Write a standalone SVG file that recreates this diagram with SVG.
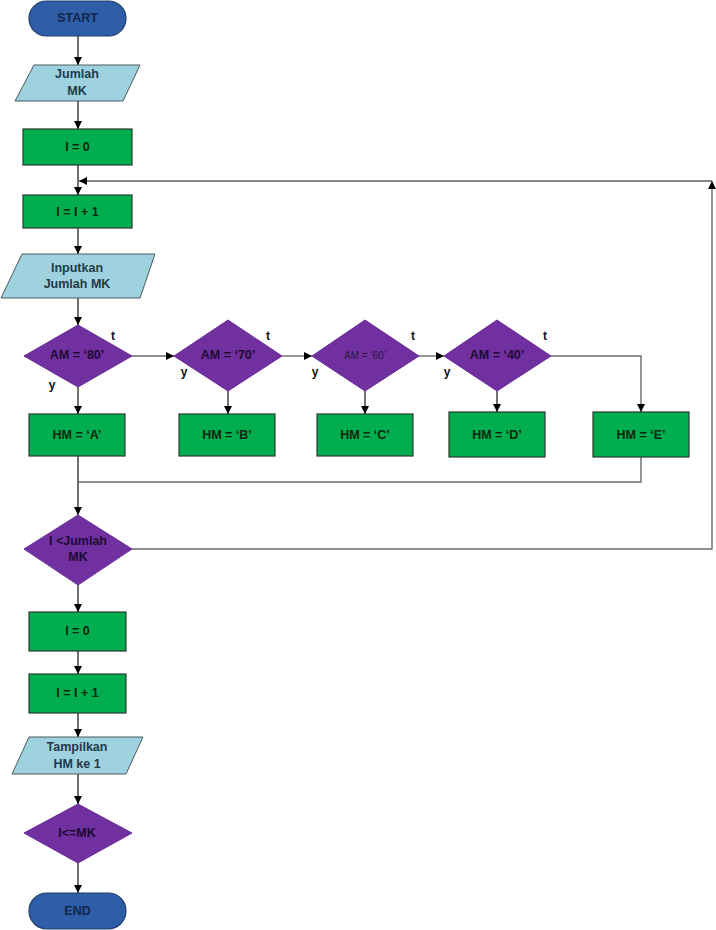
<svg xmlns="http://www.w3.org/2000/svg" width="716" height="930" viewBox="0 0 716 930">
<style>
text{font-family:"Liberation Sans",Arial,sans-serif;font-weight:bold;font-size:12.5px;text-anchor:middle;dominant-baseline:central}
.term{fill:#2e5ea8;stroke:#1e3c6e;stroke-width:1.2}
.term-t{fill:#14254a}
.io{fill:#9fd2df;stroke:#4a5a60;stroke-width:1}
.io-t{fill:#1f3a4a}
.proc{fill:#00ad4f;stroke:#2a3a2f;stroke-width:1.2}
.proc-t{fill:#10260f}
.dec{fill:#7030a0;stroke:#6a2a98;stroke-width:1}
.dec-t{fill:#1e0a30}
.lbl{fill:#111;font-size:12px}
.c{fill:none;stroke:#111;stroke-width:1.2}
.g{fill:none;stroke:#6a6a6a;stroke-width:1.4}
</style>
<defs>
<marker id="ah" markerUnits="userSpaceOnUse" markerWidth="9" markerHeight="8" refX="8" refY="4" orient="auto"><path d="M0,0 L8,4 L0,8 z" fill="#000"/></marker>
</defs>
<g id="connectors">
<line class="c" x1="78" y1="36" x2="78" y2="65" marker-end="url(#ah)"/>
<line class="c" x1="78" y1="101" x2="78" y2="129" marker-end="url(#ah)"/>
<line class="c" x1="78" y1="165" x2="78" y2="195" marker-end="url(#ah)"/>
<line class="c" x1="712" y1="181" x2="79" y2="181" marker-end="url(#ah)"/>
<line class="c" x1="78" y1="228" x2="78" y2="254" marker-end="url(#ah)"/>
<line class="c" x1="78" y1="298" x2="78" y2="325" marker-end="url(#ah)"/>
<line class="c" x1="78" y1="387" x2="78" y2="414" marker-end="url(#ah)"/>
<line class="g" x1="132" y1="356" x2="174" y2="356" marker-end="url(#ah)"/>
<line class="c" x1="228" y1="391" x2="228" y2="414" marker-end="url(#ah)"/>
<line class="g" x1="282" y1="356" x2="312" y2="356" marker-end="url(#ah)"/>
<line class="c" x1="365" y1="391" x2="365" y2="414" marker-end="url(#ah)"/>
<line class="g" x1="419" y1="356" x2="444" y2="356" marker-end="url(#ah)"/>
<line class="c" x1="497" y1="391" x2="497" y2="412" marker-end="url(#ah)"/>
<polyline class="g" points="551,356 641,356 641,412" marker-end="url(#ah)"/>
<line class="c" x1="78" y1="456" x2="78" y2="515" marker-end="url(#ah)"/>
<polyline class="g" points="641,457 641,482 78,482"/>
<polyline class="g" points="132,549 712,549 712,181" marker-end="url(#ah)"/>
<line class="c" x1="78" y1="585" x2="78" y2="612" marker-end="url(#ah)"/>
<line class="c" x1="78" y1="651" x2="78" y2="674" marker-end="url(#ah)"/>
<line class="c" x1="78" y1="713" x2="78" y2="737" marker-end="url(#ah)"/>
<line class="c" x1="78" y1="774" x2="78" y2="804" marker-end="url(#ah)"/>
<line class="c" x1="78" y1="863" x2="78" y2="893" marker-end="url(#ah)"/>
</g>
<g id="start"><rect class="term" x="29" y="1" width="97" height="35" rx="17.5"/><text class="term-t" x="77.5" y="18">START</text></g>
<g id="input-jumlah"><polygon class="io" points="34,65 140,65 123,101 15,101"/><text class="io-t" x="77" y="74">Jumlah</text><text class="io-t" x="77" y="91">MK</text></g>
<g id="i0-a"><rect class="proc" x="23" y="129" width="109" height="36"/><text class="proc-t" x="77.5" y="147">I = 0</text></g>
<g id="inc-a"><rect class="proc" x="23" y="195" width="109" height="33"/><text class="proc-t" x="77.5" y="212">I = I + 1</text></g>
<g id="input-mk"><polygon class="io" points="22,254 155,254 140,298 1,298"/><text class="io-t" x="77" y="268">Inputkan</text><text class="io-t" x="77" y="284">Jumlah MK</text></g>
<g id="d80"><polygon class="dec" points="78,325 132,356 78,387 24,356"/><text class="dec-t" x="77" y="355">AM = ‘80’</text><text class="lbl" x="113" y="336">t</text><text class="lbl" x="52" y="385">y</text></g>
<g id="d70"><polygon class="dec" points="228,320 282,356 228,391 174,356"/><text class="dec-t" x="228" y="355">AM = ‘70’</text><text class="lbl" x="268" y="336">t</text><text class="lbl" x="184" y="372">y</text></g>
<g id="d60"><polygon class="dec" points="365,320 419,356 365,391 312,356"/><text class="dec-t" x="365" y="355" style="font-weight:normal;font-size:10px;fill:#2a1840">AM = ‘60’</text><text class="lbl" x="413" y="336">t</text><text class="lbl" x="315" y="372">y</text></g>
<g id="d40"><polygon class="dec" points="497,320 551,356 497,391 444,356"/><text class="dec-t" x="497" y="355">AM = ‘40’</text><text class="lbl" x="545" y="336">t</text><text class="lbl" x="447" y="372">y</text></g>
<g id="hmA"><rect class="proc" x="29" y="414" width="96" height="42"/><text class="proc-t" x="77" y="435">HM = ‘A’</text></g>
<g id="hmB"><rect class="proc" x="179" y="414" width="96" height="42"/><text class="proc-t" x="227" y="435">HM = ‘B’</text></g>
<g id="hmC"><rect class="proc" x="317" y="414" width="96" height="42"/><text class="proc-t" x="365" y="435">HM = ‘C’</text></g>
<g id="hmD"><rect class="proc" x="449" y="412" width="96" height="45"/><text class="proc-t" x="497" y="435">HM = ‘D’</text></g>
<g id="hmE"><rect class="proc" x="593" y="412" width="96" height="45"/><text class="proc-t" x="641" y="435">HM = ‘E’</text></g>
<g id="d-loop"><polygon class="dec" points="78,515 132,549 78,585 24,549"/><text class="dec-t" x="78" y="541">I &lt;Jumlah</text><text class="dec-t" x="78" y="557">MK</text></g>
<g id="i0-b"><rect class="proc" x="29" y="612" width="97" height="39"/><text class="proc-t" x="77.5" y="631">I = 0</text></g>
<g id="inc-b"><rect class="proc" x="29" y="674" width="97" height="39"/><text class="proc-t" x="77.5" y="693">I = I + 1</text></g>
<g id="output"><polygon class="io" points="29,737 143,737 126,774 12,774"/><text class="io-t" x="77" y="747">Tampilkan</text><text class="io-t" x="77" y="764">HM ke 1</text></g>
<g id="d-end"><polygon class="dec" points="78,804 132,833 78,863 24,833"/><text class="dec-t" x="77" y="833">I&lt;=MK</text></g>
<g id="end"><rect class="term" x="29" y="893" width="97" height="36" rx="18"/><text class="term-t" x="77.5" y="911">END</text></g>
</svg>
